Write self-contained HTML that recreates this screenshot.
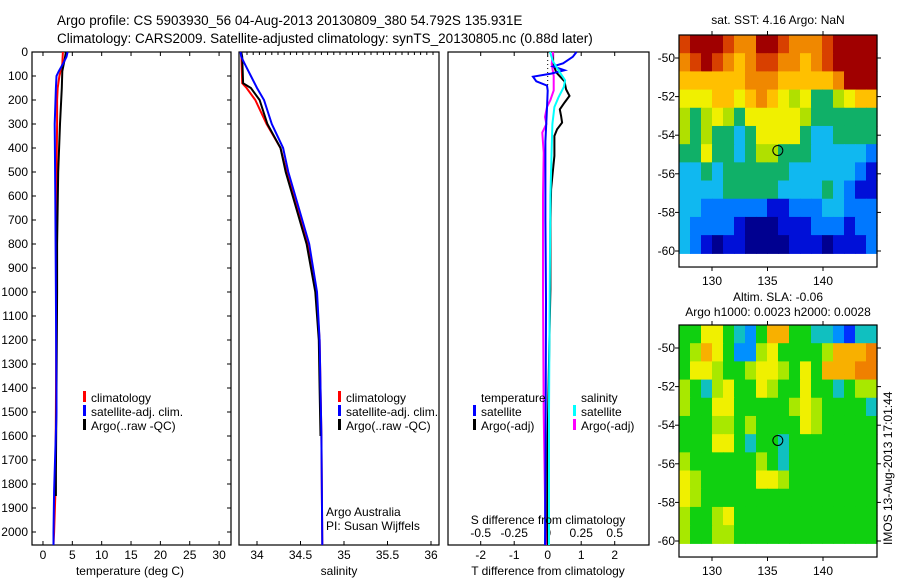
<!DOCTYPE html>
<html><head><meta charset="utf-8"><style>
body{margin:0;background:#fff;}
svg{display:block;font-family:"Liberation Sans",sans-serif;}
text{fill:#000;}
</style></head><body>
<svg id="fig" width="900" height="580" xmlns="http://www.w3.org/2000/svg">
<text x="57" y="25" font-size="13.5">Argo profile: CS 5903930_56 04-Aug-2013 20130809_380 54.792S 135.931E</text>
<text x="57" y="43" font-size="13.5">Climatology: CARS2009. Satellite-adjusted climatology: synTS_20130805.nc (0.88d later)</text>
<g id="p1"></g>
<g id="p2"></g>
<g id="p3"></g>
<g id="m1"></g>
<g id="m2"></g>
<text x="778" y="24" font-size="12" text-anchor="middle">sat. SST: 4.16 Argo: NaN</text>
<text x="778" y="301" font-size="12" text-anchor="middle">Altim. SLA: -0.06</text>
<text x="778" y="316" font-size="12" text-anchor="middle">Argo h1000: 0.0023 h2000: 0.0028</text>
<text transform="translate(892,545) rotate(-90)" font-size="12">IMOS 13-Aug-2013 17:01:44</text>
</svg>
<script>
// ---- data ----
const depthTicks=[0,100,200,300,400,500,600,700,800,900,1000,1100,1200,1300,1400,1500,1600,1700,1800,1900,2000];
const tempTicks=[0,5,10,15,20,25,30];
const salTicks=[34,34.5,35,35.5,36];
const salTickLabels=["34","34.5","35","35.5","36"];
const tdTicks=[-2,-1,0,1,2];
const sdTicks=[-0.5,-0.25,0,0.25,0.5];
const sdTickLabels=["-0.5","-0.25","0","0.25","0.5"];

const tClimDepth=[0,50,80,100,150,200,300,500,1000,1500,1850,2000,2054];
const tClimVal=[3.4,3.3,3.0,2.8,2.5,2.4,2.4,2.3,2.3,2.2,2.1,1.9,1.8];
const tSatDepth=[0,20,50,80,100,150,300,600,1000,1500,1830,2000,2054];
const tSatVal=[4.2,4.0,3.4,2.7,2.3,2.2,2.0,2.1,2.2,2.3,1.9,1.8,1.8];
const tArgoDepth=[0,30,80,150,200,300,500,800,1000,1400,1750,1850];
const tArgoVal=[3.9,3.7,3.3,3.2,3.1,2.9,2.6,2.4,2.4,2.3,2.2,2.2];

const sClimDepth=[0,130,150,200,300,400,500,600,800,1000,1200,1400,1600,2054];
const sClimVal=[33.82,33.83,33.88,33.98,34.11,34.27,34.34,34.42,34.58,34.68,34.72,34.73,34.74,34.75];
const sSatDepth=[0,20,50,100,150,200,300,400,500,600,800,1000,1200,1400,1600,2054];
const sSatVal=[33.81,33.82,33.86,33.93,34.0,34.08,34.17,34.3,34.36,34.44,34.6,34.69,34.72,34.73,34.74,34.75];
const sArgoDepth=[0,20,130,150,200,300,400,500,600,800,1000,1200,1400,1600];
const sArgoVal=[33.82,33.83,33.84,33.93,34.03,34.12,34.27,34.33,34.41,34.57,34.67,34.71,34.72,34.73];

const dTSatDepth=[0,20,47,60,76,90,103,122,140,161,233,372,700,1040,1500,2054];
const dTSatVal=[0.86,0.75,0.46,0.16,0.5,0.1,-0.44,-0.34,-0.02,0,-0.02,-0.07,-0.07,-0.05,-0.06,-0.08];
const dTArgoDepth=[5,50,86,122,156,183,211,239,267,294,322,350,433,503,572,711,989,1200,1600,2054];
const dTArgoVal=[0.16,0.16,0.26,0.5,0.55,0.65,0.5,0.36,0.4,0.43,0.28,0.2,0.2,0.15,0.1,0.08,0.08,0.05,0.0,-0.02];
const dSSatDepth=[0,40,76,118,146,190,229,300,400,600,1000,1500,2054];
const dSSatVal=[0.017,0.04,0.08,0.13,0.12,0.08,0.05,0.035,0.03,0.02,0.015,0.01,0.01];
const dSArgoDepth=[0,50,100,160,200,229,271,300,336,378,420,600,1000,1500,2054];
const dSArgoVal=[0.04,0.03,0.045,0.045,0.02,-0.005,-0.02,-0.01,-0.04,-0.035,-0.03,-0.035,-0.035,-0.03,-0.015];

const mapLonTicks=[130,135,140];
const mapLatTicks=[-50,-52,-54,-56,-58,-60];
const mapLatTickLabels=["-50","-52","-54","-56","-58","-60"];
const argoLon=135.931, argoLat=-54.792;
const sstGrid=[
[9,10,10,10,9,8,8,10,10,9,8,8,8,9,10,10,10,10],
[8,9,10,9,8,7,8,9,9,8,8,7,8,9,10,10,10,10],
[7,7,7,7,7,7,8,8,8,7,7,7,7,7,8,10,10,10],
[6,6,6,7,7,6,7,8,7,6,5,6,4,4,5,6,7,7],
[5,4,5,6,5,4,6,6,6,6,6,5,4,4,4,4,4,4],
[5,4,5,4,4,3,4,6,6,6,6,4,3,3,4,4,4,4],
[4,4,6,4,4,3,4,5,5,4,4,4,3,3,3,3,3,2],
[3,3,4,3,4,4,4,4,4,4,3,3,3,3,3,3,2,1],
[3,3,3,3,4,4,4,4,4,3,3,3,3,4,3,2,1,1],
[3,3,2,2,2,2,2,2,1,1,2,2,2,3,3,2,2,2],
[3,2,2,2,2,1,0,0,0,1,1,1,2,2,2,1,2,2],
[3,2,1,0,1,1,0,0,0,0,1,1,1,0,1,1,1,2]];
const slaGrid=[
[4,4,6,6,4,3,2,4,7,7,4,4,3,3,2,1,3,3],
[4,5,7,6,4,2,2,5,6,4,4,4,4,5,7,7,7,8],
[4,6,6,5,4,4,5,6,6,5,4,6,4,7,7,7,8,8],
[5,4,3,5,6,4,4,6,5,4,4,6,4,4,3,4,5,5],
[5,4,4,6,6,4,4,4,4,4,5,6,5,4,4,4,4,3],
[4,4,4,5,5,4,5,4,4,4,4,6,5,4,4,4,4,4],
[4,4,4,6,6,4,3,4,4,3,4,4,4,4,4,4,4,4],
[5,4,4,4,4,4,4,5,4,3,4,4,4,4,4,4,4,4],
[6,5,4,4,4,4,4,6,6,5,4,4,4,4,4,4,4,4],
[6,5,4,4,4,4,4,4,4,4,4,4,4,4,4,4,4,4],
[5,4,4,5,6,4,4,4,4,4,4,4,4,4,4,4,4,4],
[5,4,4,5,5,4,4,4,4,4,4,4,4,4,4,4,4,4]];

// colour palettes (style)
const sstPalette=['#000090','#0010d8','#0078ff','#10b8f0','#10b068','#b0e000','#f0f000','#ffc000','#f08800','#d84000','#a00000'];
const slaPalette=['#000090','#0030ff','#0090ff','#10c0c0','#10d010','#a8e800','#f0f000','#f8b000','#f08000','#d84000','#a00000'];

// ---- helpers ----
const NS="http://www.w3.org/2000/svg";
function mk(parent,tag,attrs,txt){const e=document.createElementNS(NS,tag);for(const k in attrs)e.setAttribute(k,attrs[k]);if(txt!==undefined)e.textContent=txt;parent.appendChild(e);return e;}
const yD=d=>52+d*0.24;
const TOP=52,BOT=545;

function frame(g,x0,x1,name){
  const r=mk(g,'rect',{x:x0,y:TOP,width:x1-x0,height:BOT-TOP,fill:'none',stroke:'#000','stroke-width':1.2});
  
  
}
function line(g,depths,vals,fx,color,name,w){
  const pts=depths.map((d,i)=>fx(vals[i]).toFixed(1)+','+yD(d).toFixed(1)).join(' ');
  const p=mk(g,'polyline',{points:pts,fill:'none',stroke:color,'stroke-width':w||2,'stroke-linejoin':'miter'});
  
  
}
function xTicks(g,ticks,labels,fx,y,inside){
  ticks.forEach((t,i)=>{
    const x=fx(t);
    mk(g,'line',{x1:x,y1:BOT,x2:x,y2:BOT-4,stroke:'#000'});
    if(inside) mk(g,'line',{x1:x,y1:TOP,x2:x,y2:TOP+4,stroke:'#000'});
    const tx=mk(g,'text',{x:x,y:y,'font-size':12,'text-anchor':'middle'},labels[i]);
    
    
  });
}
function legend(g,x,y0,items){
  items.forEach((it,i)=>{
    const y=y0+i*14;
    mk(g,'rect',{x:x,y:y-11,width:3,height:11,fill:it[0]});
    const t=mk(g,'text',{x:x+8,y:y,'font-size':12},it[1]);
    
    
  });
}

// ---- panel 1: temperature ----
const p1=document.getElementById('p1');
const fT=v=>32+(v+1.87)*5.87;
frame(p1,32,231,'temperature-axes');
depthTicks.forEach(d=>{
  mk(p1,'line',{x1:32,y1:yD(d),x2:36,y2:yD(d),stroke:'#000'});
  mk(p1,'line',{x1:231,y1:yD(d),x2:227,y2:yD(d),stroke:'#000'});
  const t=mk(p1,'text',{x:28,y:yD(d)+4,'font-size':12,'text-anchor':'end'},String(d));
  
  
});
xTicks(p1,tempTicks,tempTicks.map(String),fT,559,true);
line(p1,tClimDepth,tClimVal,fT,'#ff0000','temp-climatology-line');
line(p1,tArgoDepth,tArgoVal,fT,'#000000','temp-argo-line');
line(p1,tSatDepth,tSatVal,fT,'#0000ff','temp-satellite-line');
legend(p1,83,402,[['#ff0000','climatology'],['#0000ff','satellite-adj. clim.'],['#000','Argo(..raw -QC)']]);
mk(p1,'text',{x:130,y:575,'font-size':12,'text-anchor':'middle',},'temperature (deg C)');

// ---- panel 2: salinity ----
const p2=document.getElementById('p2');
const fS=v=>257+(v-34)*87;
frame(p2,239,439,'salinity-axes');
for(let x=247;x<434;x+=6.2){mk(p2,'line',{x1:x,y1:TOP,x2:x,y2:TOP+3,stroke:'#000'});}
xTicks(p2,salTicks,salTickLabels,fS,559,false);
line(p2,sClimDepth,sClimVal,fS,'#ff0000','sal-climatology-line');
line(p2,sArgoDepth,sArgoVal,fS,'#000000','sal-argo-line');
line(p2,sSatDepth,sSatVal,fS,'#0000ff','sal-satellite-line');
legend(p2,338,402,[['#ff0000','climatology'],['#0000ff','satellite-adj. clim.'],['#000','Argo(..raw -QC)']]);
mk(p2,'text',{x:326,y:516,'font-size':12,},'Argo Australia');
mk(p2,'text',{x:326,y:530,'font-size':12,},'PI: Susan Wijffels');
mk(p2,'text',{x:339,y:575,'font-size':12,'text-anchor':'middle',},'salinity');

// ---- panel 3: differences ----
const p3=document.getElementById('p3');
const fDT=v=>547.7+v*33.5;
const fDS=v=>547.7+v*134;
frame(p3,448,649,'difference-axes');
xTicks(p3,tdTicks,tdTicks.map(String),fDT,559,true);
sdTicks.forEach((s,i)=>{
  const t=mk(p3,'text',{x:fDS(s),y:537,'font-size':12,'text-anchor':'middle'},sdTickLabels[i]);
  
  
});
mk(p3,'line',{x1:fDT(0),y1:TOP,x2:fDT(0),y2:yD(150),stroke:'#000','stroke-dasharray':'1,3'});
line(p3,dTArgoDepth,dTArgoVal,fDT,'#000000','t-diff-argo-line');
line(p3,dSArgoDepth,dSArgoVal,fDS,'#ff00ff','s-diff-argo-line');
line(p3,dTSatDepth,dTSatVal,fDT,'#0000ff','t-diff-satellite-line');
line(p3,dSSatDepth,dSSatVal,fDS,'#00ffff','s-diff-satellite-line');
mk(p3,'text',{x:481,y:402,'font-size':12},'temperature');
legend(p3,473,416,[['#0000ff','satellite'],['#000','Argo(-adj)']]);
mk(p3,'text',{x:581,y:402,'font-size':12},'salinity');
legend(p3,573,416,[['#00ffff','satellite'],['#ff00ff','Argo(-adj)']]);
mk(p3,'text',{x:548,y:524,'font-size':12,'text-anchor':'middle',},'S difference from climatology');
mk(p3,'text',{x:548,y:575,'font-size':12,'text-anchor':'middle',},'T difference from climatology');

// ---- maps ----
function drawMap(g,grid,pal,top,lat50,name){
  const L=679,R=877,pxLon=11.1,pxLat=19.3;
  const fx=lon=>712+(lon-130)*pxLon;
  const fy=lat=>lat50+(-50-lat)*pxLat;
  const bottom=fy(-60.83);
  const latBot=-60.12;
  const rows=grid.length, cols=grid[0].length;
  const cw=(R-L)/cols, rh=(fy(latBot)-top)/rows;
  grid.forEach((row,r)=>row.forEach((v,c)=>{
    const cell=mk(g,'rect',{x:(L+c*cw).toFixed(2),y:(top+r*rh).toFixed(2),width:(cw+0.6).toFixed(2),height:(rh+0.6).toFixed(2),fill:pal[v]});
    
    
  }));
  const fr=mk(g,'rect',{x:L,y:top,width:R-L,height:bottom-top,fill:'none',stroke:'#000','stroke-width':1.2});
  
  
  mapLonTicks.forEach(lon=>{
    const x=fx(lon);
    mk(g,'line',{x1:x,y1:top,x2:x,y2:top-4,stroke:'#000'});
    mk(g,'line',{x1:x,y1:bottom,x2:x,y2:bottom+4,stroke:'#000'});
    const t=mk(g,'text',{x:x,y:bottom+18,'font-size':12,'text-anchor':'middle'},String(lon));
    
    
  });
  mapLatTicks.forEach((lat,i)=>{
    const y=fy(lat);
    mk(g,'line',{x1:L,y1:y,x2:L-4,y2:y,stroke:'#000'});
    mk(g,'line',{x1:R,y1:y,x2:R+4,y2:y,stroke:'#000'});
    const t=mk(g,'text',{x:L-4,y:y+4,'font-size':12,'text-anchor':'end'},mapLatTickLabels[i]);
    
    
  });
  const c=mk(g,'circle',{cx:fx(argoLon),cy:fy(argoLat),r:5,fill:'none',stroke:'#000','stroke-width':1});
  
  
}
drawMap(document.getElementById('m1'),sstGrid,sstPalette,35,58,'sst-map');
drawMap(document.getElementById('m2'),slaGrid,slaPalette,325,348,'sla-map');
</script>
</body></html>
